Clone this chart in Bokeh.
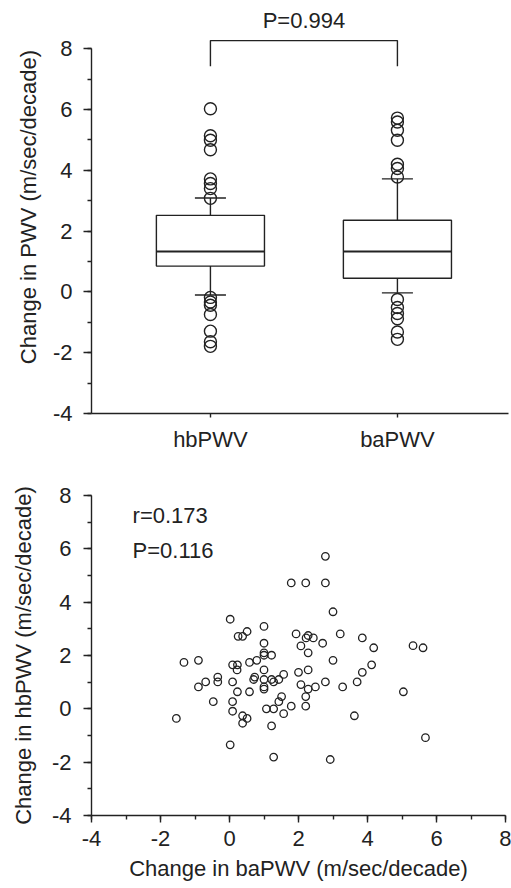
from bokeh.plotting import figure
from bokeh.layouts import column
from bokeh.models import Range1d, FixedTicker, SingleIntervalTicker, ColumnDataSource
from bokeh.core.properties import value
from bokeh.embed import file_html
from bokeh.resources import INLINE

# ---------------- data ----------------
groups = ["hbPWV", "baPWV"]
group_pos = [1, 2]
q1 = [0.85, 0.45]
median = [1.33, 1.33]
q3 = [2.52, 2.36]
whisker_low = [-0.10, -0.03]
whisker_high = [3.09, 3.72]
hb_outliers = [6.03, 5.14, 4.99, 4.68, 3.72, 3.57, 3.40, 3.08,
               -0.18, -0.33, -0.44, -0.74, -1.29, -1.64, -1.79]
ba_outliers = [5.72, 5.59, 5.32, 4.99, 4.20, 4.06, 3.78,
               -0.25, -0.51, -0.71, -0.88, -1.32, -1.56]
p_box = "P=0.994"

ba_change = [0.02, 0.25, 0.38, 0.51, 1.00, 1.79, 2.21, 2.78, 2.78, 3.00,
             1.93, 2.28, 2.22, 2.43, 3.21, 3.85, 2.70, 1.00, 2.07, 4.18,
             5.32, 5.61, 2.28, 1.00, 1.00, 1.22, -1.32, -0.90, 0.09, 0.23,
             0.22, 0.58, 0.79, 3.00, 4.12, 3.85, 1.00, 2.00, 2.28, 1.57,
             -0.34, 0.73, 0.70, 1.00, 1.22, 1.43, 1.28, -0.69, -0.34, 0.09,
             -0.90, 1.00, 1.00, 2.07, 2.28, 2.49, 2.78, 3.28, 3.70, 5.04,
             0.23, 0.58, -0.47, 0.09, 1.51, 1.43, 2.21, 1.79, 1.07, 1.28,
             2.21, 0.09, 1.57, -1.54, 0.38, 0.51, 0.38, 1.22, 3.62, 5.68,
             0.02, 1.28, 2.92]
hb_change = [3.36, 2.72, 2.72, 2.90, 3.09, 4.72, 4.72, 4.72, 5.72, 3.64,
             2.81, 2.75, 2.66, 2.66, 2.81, 2.66, 2.46, 2.46, 2.36, 2.29,
             2.37, 2.29, 2.10, 2.10, 2.01, 2.01, 1.74, 1.82, 1.65, 1.65,
             1.46, 1.74, 1.82, 1.82, 1.65, 1.37, 1.46, 1.37, 1.46, 1.29,
             1.19, 1.19, 1.10, 1.10, 1.10, 1.10, 1.01, 1.01, 1.01, 1.01,
             0.82, 0.82, 0.74, 0.91, 0.74, 0.82, 1.01, 0.82, 1.01, 0.64,
             0.64, 0.64, 0.27, 0.27, 0.46, 0.27, 0.46, 0.10, 0.00, 0.00,
             0.10, -0.09, -0.18, -0.36, -0.26, -0.36, -0.54, -0.64, -0.26, -1.08,
             -1.35, -1.81, -1.90]
r_text = "r=0.173"
p_scatter = "P=0.116"
tick_values = [-4, -2, 0, 2, 4, 6, 8]
tick_labels = ["-4", "-2", "0", "2", "4", "6", "8"]

# ---------------- style ----------------
FONT = "Liberation Sans"
FS = "22px"
INK = "#222222"
LW = 1.4


def style_axes(p):
    p.outline_line_color = None
    p.xgrid.grid_line_color = None
    p.ygrid.grid_line_color = None
    for ax in [p.xaxis[0], p.yaxis[0]]:
        ax.axis_line_color = INK
        ax.axis_line_width = LW
        ax.major_tick_line_color = INK
        ax.major_tick_line_width = LW
        ax.minor_tick_line_color = INK
        ax.minor_tick_line_width = LW
        ax.major_tick_in = 0
        ax.minor_tick_in = 0
        ax.major_label_text_font = FONT
        ax.major_label_text_font_size = FS
        ax.major_label_text_color = INK
        ax.axis_label_text_font = FONT
        ax.axis_label_text_font_size = FS
        ax.axis_label_text_font_style = "normal"
        ax.axis_label_text_color = INK


def numeric_axis(ax):
    ax.ticker = SingleIntervalTicker(interval=2, num_minor_ticks=2)
    ax.major_label_overrides = dict(zip(tick_values, tick_labels))


# ---------------- top: box plot ----------------
p1 = figure(frame_width=417, frame_height=413,
            min_border_left=91, min_border_right=3,
            min_border_top=0, min_border_bottom=59,
            x_range=Range1d(0.364, 2.594), y_range=Range1d(-4, 9.59),
            output_backend="svg", toolbar_location=None)
style_axes(p1)

box_half = 0.289
cap_half = 0.083
src = ColumnDataSource(dict(
    x=group_pos,
    left=[g - box_half for g in group_pos],
    right=[g + box_half for g in group_pos],
    cl=[g - cap_half for g in group_pos],
    cr=[g + cap_half for g in group_pos],
    q1=q1, q3=q3, med=median, lo=whisker_low, hi=whisker_high,
))
p1.segment(x0="x", y0="q3", x1="x", y1="hi", source=src, line_color=INK, line_width=LW)
p1.segment(x0="x", y0="q1", x1="x", y1="lo", source=src, line_color=INK, line_width=LW)
p1.segment(x0="cl", y0="hi", x1="cr", y1="hi", source=src, line_color=INK, line_width=LW)
p1.segment(x0="cl", y0="lo", x1="cr", y1="lo", source=src, line_color=INK, line_width=LW)
p1.quad(left="left", right="right", bottom="q1", top="q3", source=src,
        fill_color="white", line_color=INK, line_width=LW)
p1.segment(x0="left", y0="med", x1="right", y1="med", source=src, line_color=INK, line_width=LW + 0.4)

out_x = [group_pos[0]] * len(hb_outliers) + [group_pos[1]] * len(ba_outliers)
out_y = hb_outliers + ba_outliers
p1.scatter(out_x, out_y, marker="circle", size=12, fill_color="white",
           fill_alpha=0.0, line_color=INK, line_width=LW)

bracket_top = 8.27
bracket_bottom = 7.43
p1.line([group_pos[0], group_pos[0], group_pos[1], group_pos[1]],
        [bracket_bottom, bracket_top, bracket_top, bracket_bottom],
        line_color=INK, line_width=LW)
p1.text(x=[sum(group_pos) / 2], y=[8.93], text=[p_box], text_align="center",
        text_baseline="middle", text_font=value(FONT), text_font_size=FS, text_color=INK)

p1.xaxis.ticker = FixedTicker(ticks=group_pos)
p1.xaxis.major_label_overrides = {group_pos[0]: groups[0], group_pos[1]: groups[1]}
p1.xaxis.major_tick_out = 4
p1.xaxis.major_label_standoff = 9
numeric_axis(p1.yaxis[0])
p1.yaxis.bounds = (-4, 8)
p1.yaxis.major_tick_out = 8
p1.yaxis.minor_tick_out = 4
p1.yaxis.major_label_standoff = 11
p1.yaxis.axis_label = "Change in PWV (m/sec/decade)"
p1.yaxis.axis_label_standoff = 9

# ---------------- bottom: scatter ----------------
p2 = figure(frame_width=414, frame_height=320,
            min_border_left=91, min_border_right=6,
            min_border_top=23, min_border_bottom=72,
            x_range=Range1d(-4, 8), y_range=Range1d(-4, 8),
            output_backend="svg", toolbar_location=None)
style_axes(p2)
p2.scatter(ba_change, hb_change, marker="circle", size=7.5, fill_color="white",
           fill_alpha=0.0, line_color=INK, line_width=1.3)
p2.text(x=[-2.81, -2.81], y=[7.25, 5.94], text=[r_text, p_scatter],
        text_baseline="middle", text_font=value(FONT), text_font_size=FS, text_color=INK)

for ax in [p2.xaxis[0], p2.yaxis[0]]:
    numeric_axis(ax)
    ax.minor_tick_out = 4
p2.xaxis.major_tick_out = 7
p2.yaxis.major_tick_out = 8
p2.yaxis.bounds = (-4, 8)
p2.yaxis.major_label_standoff = 12
p2.xaxis.major_label_standoff = 8
p2.yaxis.axis_label = "Change in hbPWV (m/sec/decade)"
p2.yaxis.axis_label_standoff = 13
p2.xaxis.axis_label = "Change in baPWV (m/sec/decade)"
p2.xaxis.axis_label_standoff = 7

layout = column(p1, p2, spacing=0)
open("out.html", "w").write(file_html(layout, INLINE))
